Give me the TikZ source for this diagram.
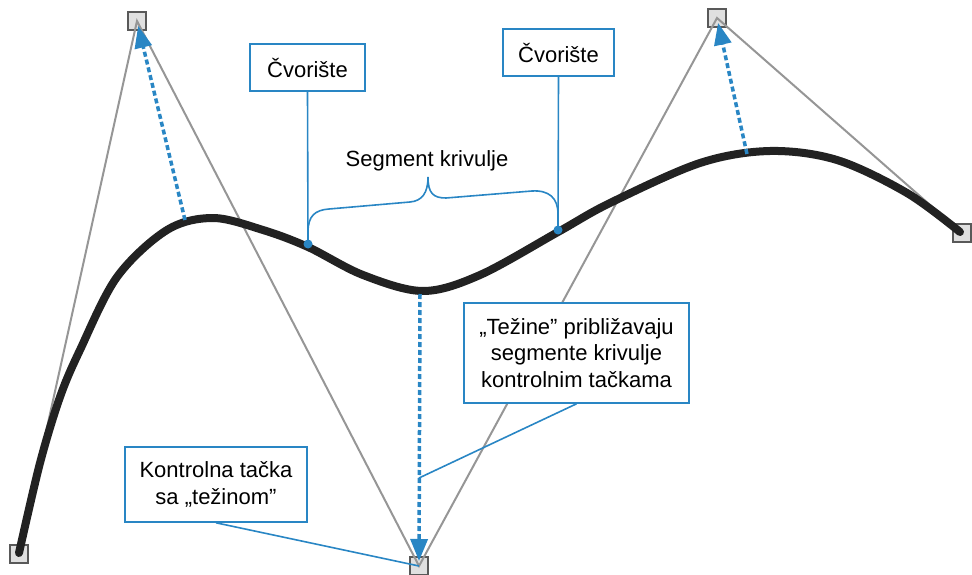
\documentclass[tikz,border=0pt]{standalone}
\usepackage{fontspec}
\setmainfont{Liberation Sans}
\usetikzlibrary{arrows.meta}
\definecolor{cblue}{RGB}{41,134,196}
\definecolor{cgray}{RGB}{150,150,150}
\definecolor{ccurve}{RGB}{34,34,34}
\begin{document}
\begin{tikzpicture}[x=1pt,y=-1pt,
  cp/.style={draw=black!65,fill=black!12,line width=1.5pt,minimum size=18pt,inner sep=0pt},
  ctl/.style={cgray,line width=2pt},
  wgt/.style={cblue,line width=3.5pt,dash pattern=on 5pt off 3pt,-{Triangle[length=22pt,width=17pt]},shorten >=5pt},
  callout/.style={draw=cblue,line width=1.6pt,fill=white,align=center,inner sep=0pt,font=\fontsize{22}{26.5}\selectfont},
  lead/.style={cblue,line width=1.6pt},
  knot/.style={circle,fill=cblue,inner sep=0pt,minimum size=9pt}]
\useasboundingbox (0,0) rectangle (972,575);
% control points
\node[cp] (P0) at (19,554) {};
\node[cp] (P1) at (137,21) {};
\node[cp] (P2) at (419,566) {};
\node[cp] (P3) at (717,18) {};
\node[cp] (P4) at (962,233) {};
% control polygon
\draw[ctl] (P0.center) -- (P1.center) -- (P2.center) -- (P3.center) -- (P4.center);
% curve
\draw[ccurve,line width=8pt,line cap=round,line join=round] plot[smooth,tension=0.55] coordinates {
 (19,553) (40,463) (60,397) (80,350) (117,277) (167,230) (213,218) (263,230) (308,247)
 (363,275) (423,291) (480,275) (558,232) (610,203) (700,163) (770,151) (837,160)
 (907,193) (960,232)};
% weight arrows
\coordinate (w1) at (185,220);
\coordinate (w2) at (420,294);
\coordinate (w3) at (747,154);
\draw[wgt] (w1) -- (P1.center);
\draw[wgt] (w2) -- (P2.center);
\draw[wgt] (w3) -- (P3.center);
% knots
\node[knot] (k1) at (308,244) {};
\node[knot] (k2) at (558,230) {};
% callouts
\node[callout,minimum width=115pt,minimum height=47pt] (c1) at (307.5,67.5) {Čvorište};
\node[callout,minimum width=111pt,minimum height=47pt] (c2) at (558.5,52.5) {Čvorište};
\node[callout,minimum width=182pt,minimum height=75pt] (c3) at (216,484.5) {Kontrolna tačka\\sa „težinom”};
\node[callout,minimum width=225pt,minimum height=100pt] (c4) at (576.5,353) {„Težine” približavaju\\segmente krivulje\\kontrolnim tačkama};
\draw[lead] (c1.south) -- (k1.center);
\draw[lead] (c2.south) -- (k2.center);
\coordinate (t4) at (419,478);
\draw[lead] (c4.south) -- (t4);
\draw[lead] (c3.south) -- (P2.center);
% brace
\coordinate (btip) at (428,177);
\draw[lead] (k1.center) -- (308,232) .. controls (308,216) and (315,210) .. (329,209)
  -- (410,202) .. controls (422,201) and (428,193) .. (btip)
  .. controls (428,193) and (433,198) .. (446,198)
  -- (532,191) .. controls (549,190) and (558,198) .. (558,214) -- (k2.center);
\node[font=\fontsize{22}{26.5}\selectfont] (seg) at (427,161) {Segment krivulje};
\end{tikzpicture}
\end{document}
